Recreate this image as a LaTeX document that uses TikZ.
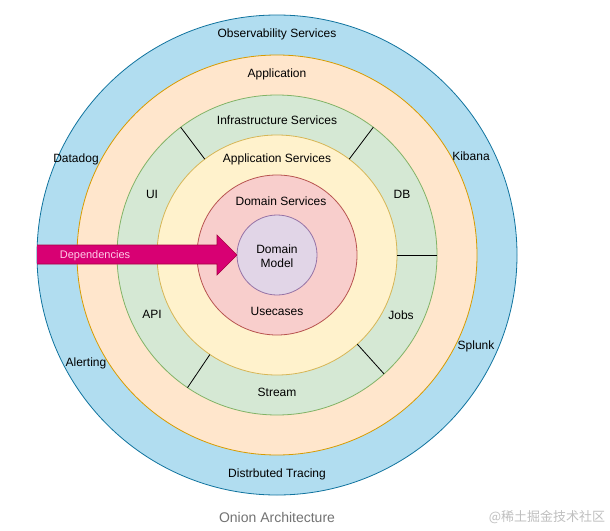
\documentclass[tikz,border=0pt]{standalone}
\usepackage{fontspec}
\setmainfont{Liberation Sans}
\newfontfamily\cjkfont{Noto Sans CJK SC}
\usetikzlibrary{calc}
\definecolor{obsfill}{HTML}{B1DDF0}\definecolor{obsline}{HTML}{10739E}
\definecolor{appfill}{HTML}{FFE6CC}\definecolor{appline}{HTML}{D79B00}
\definecolor{inffill}{HTML}{D5E8D4}\definecolor{infline}{HTML}{82B366}
\definecolor{asfill}{HTML}{FFF2CC}\definecolor{asline}{HTML}{D6B656}
\definecolor{dsfill}{HTML}{F8CECC}\definecolor{dsline}{HTML}{B85450}
\definecolor{dmfill}{HTML}{E1D5E7}\definecolor{dmline}{HTML}{9673A6}
\definecolor{depfill}{HTML}{D80073}\definecolor{depline}{HTML}{A50040}
\definecolor{deptext}{HTML}{FFCCE8}
\tikzset{
  ring/.style={circle, draw, line width=0.8pt, inner sep=0pt, outer sep=0pt},
  lbl/.style={font=\fontsize{12}{14}\selectfont, inner sep=0pt, align=center, yshift=-1.5pt},
  sep/.style={draw=black, line width=0.8pt},
}
\begin{document}
\begin{tikzpicture}[x=1pt,y=-1pt]
\useasboundingbox[fill=white] (0,0) rectangle (610,530);
\coordinate (c) at (277,255);
\node[ring, draw=obsline, fill=obsfill, minimum size=480pt] (obs) at (c) {};
\node[ring, draw=appline, fill=appfill, minimum size=400pt] (app) at (c) {};
\node[ring, draw=infline, fill=inffill, minimum size=320pt] (inf) at (c) {};
\node[ring, draw=asline, fill=asfill, minimum size=240pt] (as) at (c) {};
\node[ring, draw=dsline, fill=dsfill, minimum size=160pt] (ds) at (c) {};
\node[ring, draw=dmline, fill=dmfill, minimum size=80pt] (dm) at (c) {};
% separators in the infrastructure ring
\draw[sep] (inf.127) -- (as.127);
\draw[sep] (inf.53) -- (as.53);
\draw[sep] (inf.0) -- (as.0);
\draw[sep] (inf.-124) -- (as.-124);
\draw[sep] (inf.-48) -- (as.-48);
% dependencies arrow
\coordinate (a1) at (37,245);
\coordinate (a2) at (217,245);
\coordinate (a3) at (217,235);
\coordinate (a5) at (217,275);
\coordinate (a6) at (217,264);
\coordinate (a7) at (37,264);
\fill[depfill] (a1) -- (a2) -- (a3) -- (dm.west) -- (a5) -- (a6) -- (a7) -- cycle;
\draw[depline, line width=0.6pt] (a1) -- (a2) -- (a3) -- (dm.west) -- (a5) -- (a6) -- (a7);
\node[lbl, font=\fontsize{11}{13}\selectfont, text=deptext] (deplbl) at (95,254.5) {Dependencies};
% labels
\node[lbl] (l1) at (277,33) {Observability Services};
\node[lbl] (l2) at (277,73) {Application};
\node[lbl] (l3) at (277,119) {Infrastructure Services};
\node[lbl] (l4) at (277,158) {Application Services};
\node[lbl] (l5) at (281,200) {Domain Services};
\node[lbl] (l6) at (277,255) {Domain\\Model};
\node[lbl] (l7) at (277,310) {Usecases};
\node[lbl] (l8) at (152,193) {UI};
\node[lbl] (l9) at (402,193) {DB};
\node[lbl] (l10) at (152,313) {API};
\node[lbl] (l11) at (401,314) {Jobs};
\node[lbl] (l12) at (277,391) {Stream};
\node[lbl] (l13) at (76,158) {Datadog};
\node[lbl] (l14) at (471,155) {Kibana};
\node[lbl] (l15) at (86,362) {Alerting};
\node[lbl] (l16) at (476,345) {Splunk};
\node[lbl] (l17) at (277,473) {Distrbuted Tracing};
\node[lbl, font=\fontsize{14}{16}\selectfont, text=black!55] (title) at (277,516) {Onion Architecture};
\node[lbl, font=\fontsize{13}{15}\selectfont\cjkfont, text=black!25] (wm) at (547,516) {@稀土掘金技术社区};
\end{tikzpicture}
\end{document}
